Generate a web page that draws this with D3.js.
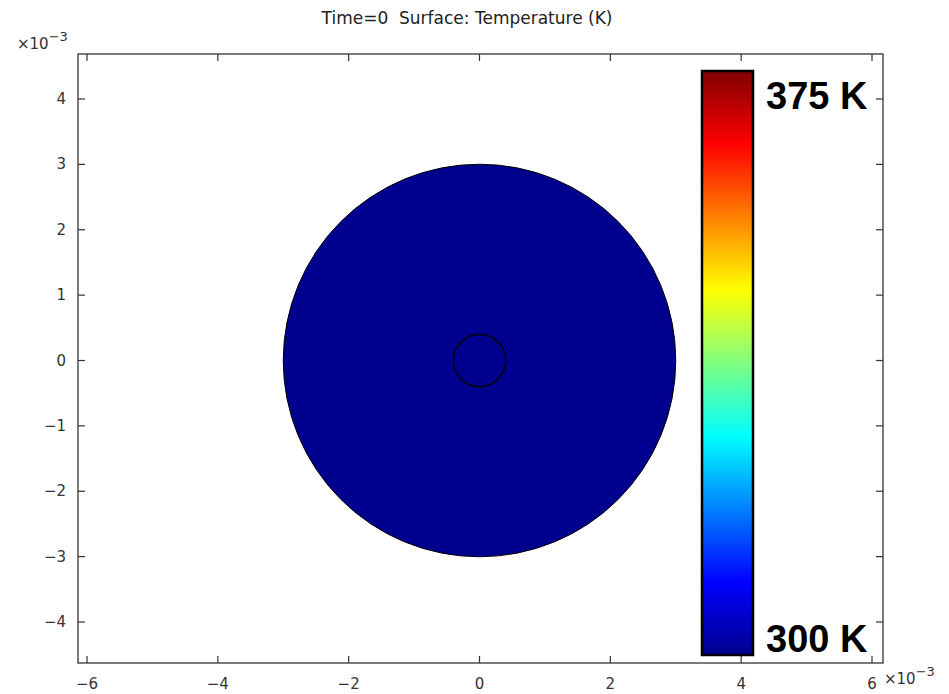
<!DOCTYPE html>
<html>
<head>
<meta charset="utf-8">
<script src="https://cdn.jsdelivr.net/npm/d3@7"></script>
<style>
  body { margin: 0; background: #fff; }
  text { font-family: "DejaVu Sans", sans-serif; }
</style>
</head>
<body>
<div id="chart"></div>
<script>
// data (units of 1e-3 m)
const xTicks = [-6, -4, -2, 0, 2, 4, 6];
const yTicks = [-4, -3, -2, -1, 0, 1, 2, 3, 4];
const outerRadius = [3];
const innerRadius = [0.4];
const tempRange = [300, 375];
const tempLabels = ["300 K", "375 K"];
// jet colormap stops
const jetStops = ["#00008f", "#0000ff", "#0080ff", "#00ffff", "#80ff80", "#ffff00", "#ff8000", "#ff0000", "#800000"];

const width = 949, height = 694;
const frame = { left: 78, right: 883, top: 54, bottom: 663 };

const svg = d3.select("#chart").append("svg")
  .attr("width", width)
  .attr("height", height);

const x = d3.scaleLinear().domain([-6, 6]).range([87, 872]);
const y = d3.scaleLinear().domain([-4, 4]).range([622, 99]);

// title
svg.append("text")
  .attr("x", 467).attr("y", 24)
  .attr("text-anchor", "middle")
  .style("font-size", "17px")
  .style("white-space", "pre")
  .style("fill", "#222")
  .text("Time=0  Surface: Temperature (K)");

// domain (outer disk)
svg.append("circle")
  .attr("cx", x(0)).attr("cy", y(0))
  .attr("r", x(outerRadius[0]) - x(0))
  .attr("fill", "#00008f")
  .attr("stroke", "#000")
  .attr("stroke-width", 1);

// inner boundary
svg.append("circle")
  .attr("cx", x(0)).attr("cy", y(0))
  .attr("r", x(innerRadius[0]) - x(0))
  .attr("fill", "none")
  .attr("stroke", "#000")
  .attr("stroke-width", 1.5);

// frame
svg.append("rect")
  .attr("x", frame.left).attr("y", frame.top)
  .attr("width", frame.right - frame.left)
  .attr("height", frame.bottom - frame.top)
  .attr("fill", "none")
  .attr("stroke", "#333")
  .attr("stroke-width", 1.3);

const tickLen = 7;
const fmt = d => d < 0 ? "\u2212" + Math.abs(d) : String(d);

// x ticks (bottom + top, inward)
xTicks.forEach(t => {
  svg.append("line")
    .attr("x1", x(t)).attr("x2", x(t))
    .attr("y1", frame.bottom).attr("y2", frame.bottom - tickLen)
    .attr("stroke", "#333").attr("stroke-width", 1.2);
  svg.append("line")
    .attr("x1", x(t)).attr("x2", x(t))
    .attr("y1", frame.top).attr("y2", frame.top + tickLen)
    .attr("stroke", "#333").attr("stroke-width", 1.2);
  svg.append("text")
    .attr("x", x(t)).attr("y", 689)
    .attr("text-anchor", "middle")
    .style("font-size", "15px")
    .style("fill", "#333")
    .text(fmt(t));
});

// y ticks (left + right, inward)
yTicks.forEach(t => {
  svg.append("line")
    .attr("x1", frame.left).attr("x2", frame.left + tickLen)
    .attr("y1", y(t)).attr("y2", y(t))
    .attr("stroke", "#333").attr("stroke-width", 1.2);
  svg.append("line")
    .attr("x1", frame.right).attr("x2", frame.right - tickLen)
    .attr("y1", y(t)).attr("y2", y(t))
    .attr("stroke", "#333").attr("stroke-width", 1.2);
  svg.append("text")
    .attr("x", 66).attr("y", y(t) + 5)
    .attr("text-anchor", "end")
    .style("font-size", "15px")
    .style("fill", "#333")
    .text(fmt(t));
});

// exponent labels
function expLabel(px, py) {
  const g = svg.append("text")
    .attr("x", px).attr("y", py)
    .style("font-size", "15px")
    .style("fill", "#333");
  g.append("tspan").text("\u00d710");
  g.append("tspan").attr("dy", -8).style("font-size", "13px").text("\u22123");
}
expLabel(17, 49);
expLabel(884, 684);

// colour bar
const bar = { x: 702, y: 71, w: 51, h: 584 };
const grad = svg.append("defs").append("linearGradient")
  .attr("id", "jet")
  .attr("x1", 0).attr("y1", 1).attr("x2", 0).attr("y2", 0);
jetStops.forEach((c, i) => {
  grad.append("stop")
    .attr("offset", i / (jetStops.length - 1))
    .attr("stop-color", c);
});
const cy = d3.scaleLinear().domain(tempRange).range([bar.y + bar.h, bar.y]);
svg.append("rect")
  .attr("x", bar.x).attr("y", cy(tempRange[1]))
  .attr("width", bar.w)
  .attr("height", cy(tempRange[0]) - cy(tempRange[1]))
  .attr("fill", "url(#jet)")
  .attr("stroke", "#000")
  .attr("stroke-width", 2.5);

svg.append("text")
  .attr("x", 766).attr("y", cy(tempRange[1]) + 38)
  .style("font-family", "'Liberation Sans', Arial, sans-serif")
  .style("font-weight", "bold")
  .style("font-size", "38px")
  .style("fill", "#000")
  .text(tempLabels[1]);
svg.append("text")
  .attr("x", 766).attr("y", cy(tempRange[0]) - 3)
  .style("font-family", "'Liberation Sans', Arial, sans-serif")
  .style("font-weight", "bold")
  .style("font-size", "38px")
  .style("fill", "#000")
  .text(tempLabels[0]);
</script>
</body>
</html>
